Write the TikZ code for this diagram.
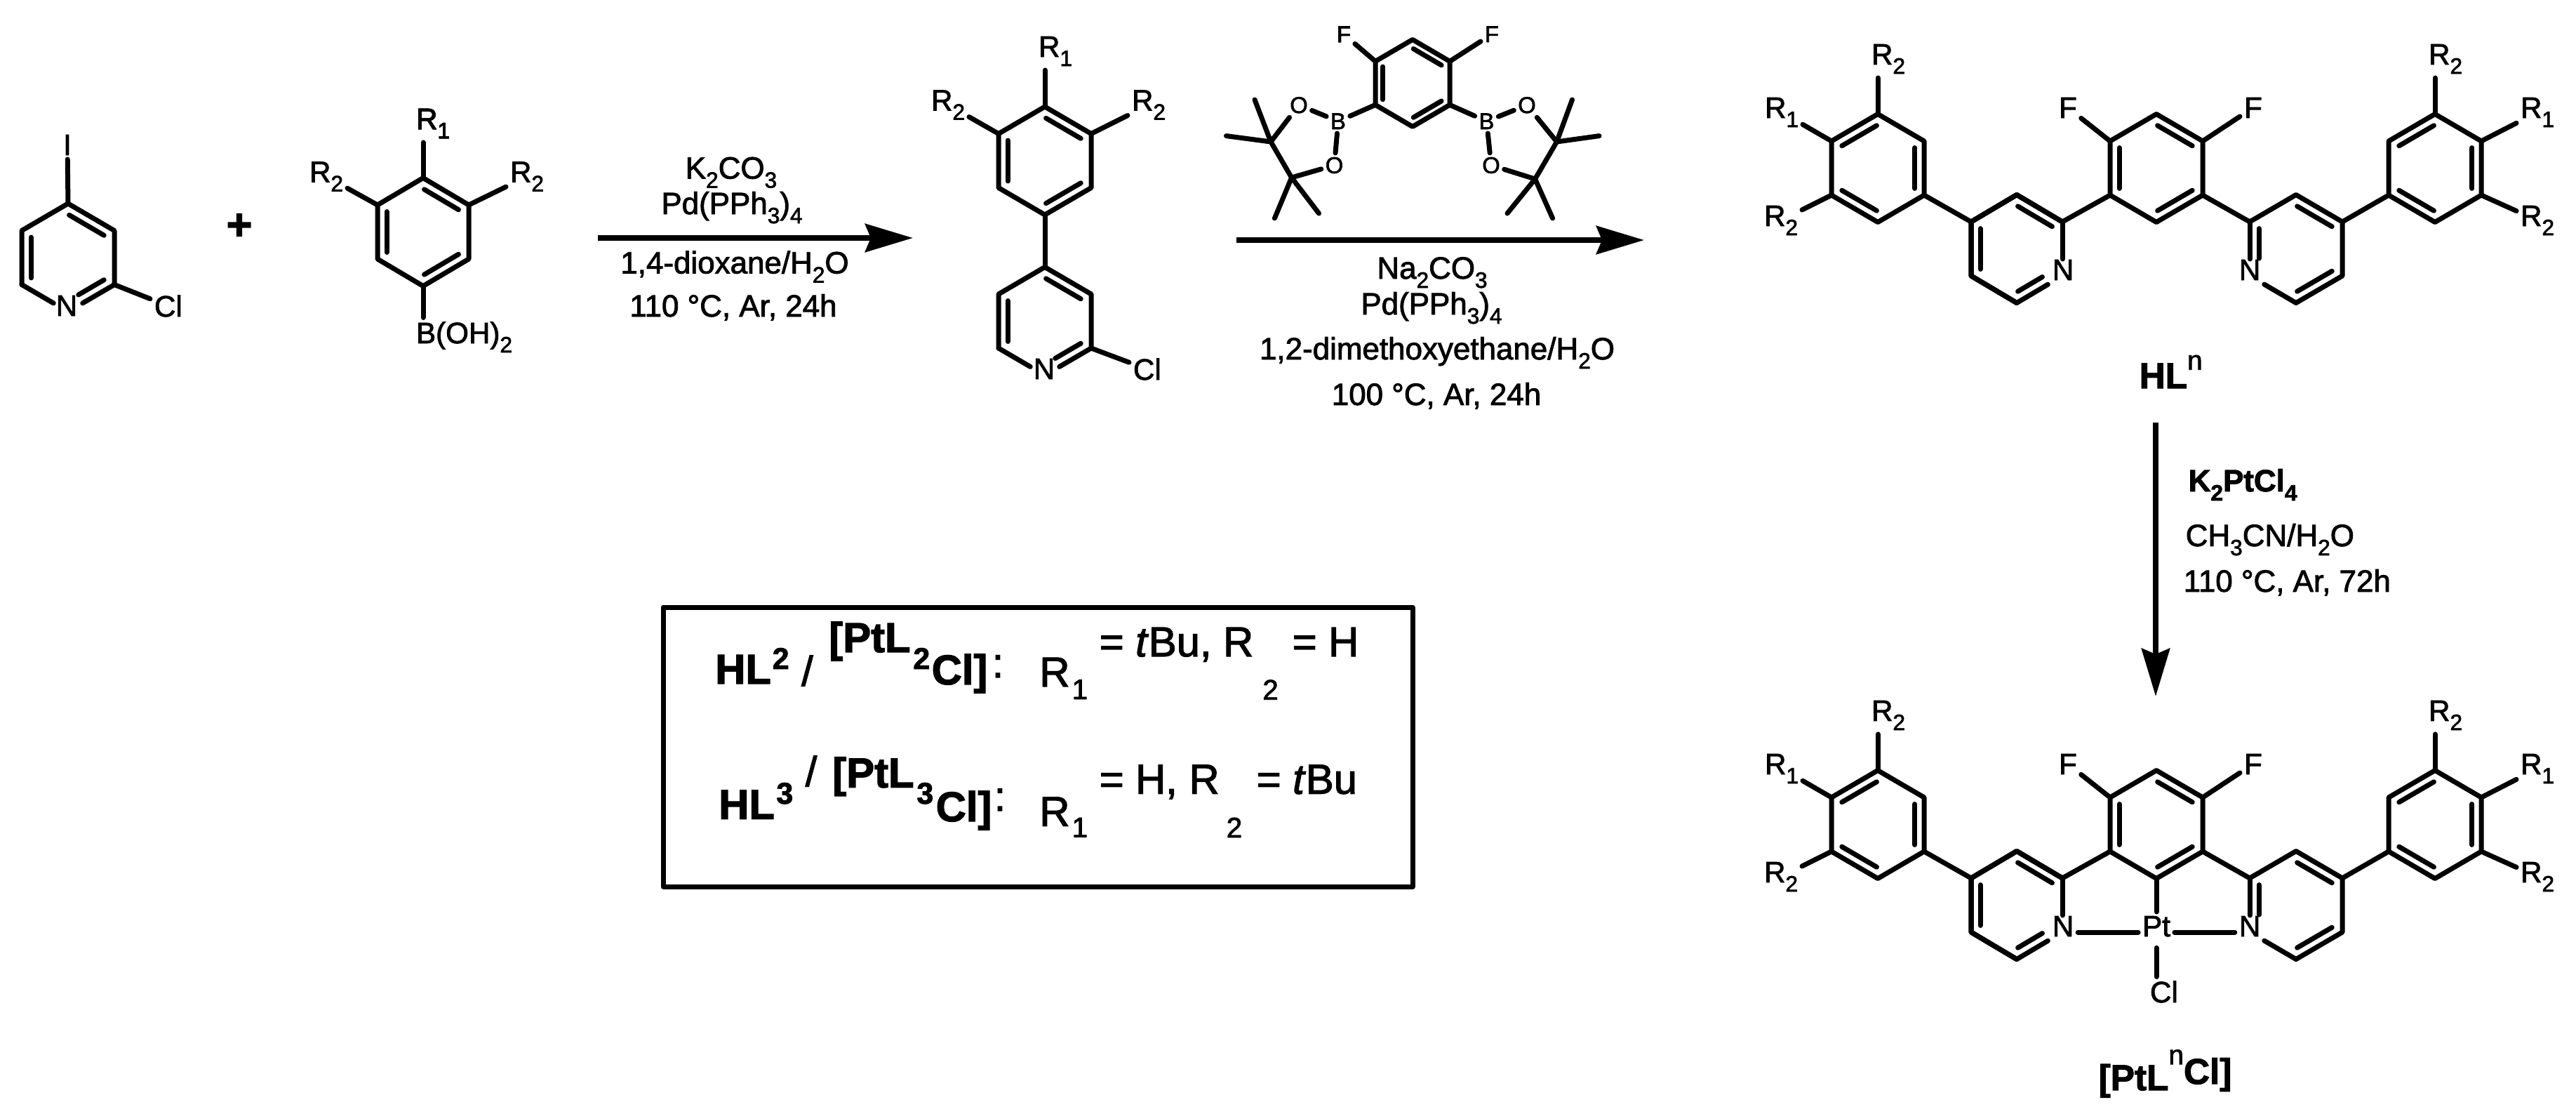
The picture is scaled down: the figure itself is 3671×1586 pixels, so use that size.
\documentclass[tikz,border=0pt]{standalone}
\usepackage{fontspec}
\setmainfont{Liberation Sans}[RawFeature={embolden=2}]
\usepackage{tikz}
\usetikzlibrary{calc, arrows.meta}

\tikzset{
    bond/.style={line width=0.7mm, line cap=round, line join=round},
    bondin/.style={line width=0.7mm, line cap=round},
    tonitro/.style={bond, shorten >=2.4mm},
    rxnarrow/.style={line width=0.8mm, -{Stealth[length=6.8mm, width=4mm, inset=0.8mm]}},
    atom/.style={font=\fontsize{12}{14}\selectfont, inner sep=1.5pt, anchor=base},
    atomw/.style={atom, anchor=base west},
    tinyatom/.style={font=\fontsize{9.3}{11}\selectfont, inner sep=1.5pt, anchor=base},
    tinyatomw/.style={tinyatom, anchor=base west},
    reagent/.style={font=\fontsize{12.5}{15}\selectfont, inner sep=0pt, anchor=base},
    reagentw/.style={reagent, anchor=base west},
    cmpd/.style={font=\fontsize{14.6}{17}\selectfont\bfseries, inner sep=0pt, anchor=base west},
    boxbold/.style={font=\fontsize{17}{20}\selectfont\bfseries, inner sep=0pt, anchor=base west},
    boxidx/.style={font=\fontsize{12.2}{14}\selectfont\bfseries, inner sep=0pt, anchor=base west},
    boxtxt/.style={font=\fontsize{17}{20}\selectfont, inner sep=0pt, anchor=base west},
    boxsub/.style={font=\fontsize{11.5}{14}\selectfont, inner sep=0pt, anchor=base west},
}

\newcommand{\sbs}[1]{\raisebox{-3.7pt}{\fontsize{9}{9}\selectfont #1}}
\newcommand{\hexpts}[5]{
    \coordinate (#1-c) at (#2,#3);
    \coordinate (#1-t) at (#2,#3-2*#5);
    \coordinate (#1-ur) at (#2+#4,#3-#5);
    \coordinate (#1-lr) at (#2+#4,#3+#5);
    \coordinate (#1-b) at (#2,#3+2*#5);
    \coordinate (#1-ll) at (#2-#4,#3+#5);
    \coordinate (#1-ul) at (#2-#4,#3-#5);
}
\newcommand{\hexring}[1]{\draw[bond] (#1-t) -- (#1-ur) -- (#1-lr) -- (#1-b) -- (#1-ll) -- (#1-ul) -- cycle;}
\newcommand{\dblpart}[5]{\draw[bondin] ($($(#1)!#4!(#2)$)!.2!(#3)$) -- ($($(#1)!#5!(#2)$)!.2!(#3)$);}
\newcommand{\dblbond}[3]{\dblpart{#1}{#2}{#3}{.03}{.97}}

% The ligand frame, used twice
\newcommand{\ligand}[2]{
    \hexpts{#1-la}{2676}{239.5+#2}{66}{38.5}
    \hexpts{#1-lp}{2874}{354.5+#2}{65}{38.5}
    \hexpts{#1-ce}{3073}{239.5+#2}{66}{38.5}
    \hexpts{#1-rp}{3272}{354.5+#2}{66}{38.5}
    \hexpts{#1-ra}{3470}{239.5+#2}{66}{38.5}
    \hexring{#1-la}
    \hexring{#1-ce}
    \hexring{#1-ra}
    \foreach \p/\q in {t/ul,ur/lr,ll/b} {
        \dblbond{#1-la-\p}{#1-la-\q}{#1-la-c}
        \dblbond{#1-ra-\p}{#1-ra-\q}{#1-ra-c}
    }
    \foreach \p/\q in {t/ur,ul/ll,lr/b} \dblbond{#1-ce-\p}{#1-ce-\q}{#1-ce-c}
    % Left pyridine
    \draw[bond] (#1-lp-ur) -- (#1-lp-t) -- (#1-lp-ul) -- (#1-lp-ll) -- (#1-lp-b);
    \draw[tonitro] (#1-lp-ur) -- (#1-lp-lr);
    \draw[tonitro] (#1-lp-b) -- (#1-lp-lr);
    \dblbond{#1-lp-t}{#1-lp-ur}{#1-lp-c}
    \dblbond{#1-lp-ul}{#1-lp-ll}{#1-lp-c}
    \dblpart{#1-lp-lr}{#1-lp-b}{#1-lp-c}{.3}{.97}
    % Right pyridine
    \draw[bond] (#1-rp-ul) -- (#1-rp-t) -- (#1-rp-ur) -- (#1-rp-lr) -- (#1-rp-b);
    \draw[tonitro] (#1-rp-ul) -- (#1-rp-ll);
    \draw[tonitro] (#1-rp-b) -- (#1-rp-ll);
    \dblbond{#1-rp-t}{#1-rp-ur}{#1-rp-c}
    \dblpart{#1-rp-ul}{#1-rp-ll}{#1-rp-c}{.03}{.72}
    \dblbond{#1-rp-lr}{#1-rp-b}{#1-rp-c}
    % Links between the rings
    \draw[bond] (#1-la-lr) -- (#1-lp-ul);
    \draw[bond] (#1-lp-ur) -- (#1-ce-ll);
    \draw[bond] (#1-ce-lr) -- (#1-rp-ul);
    \draw[bond] (#1-rp-ur) -- (#1-ra-ll);
    % Atom labels
    \node[atom] (#1-Nl) at (2940,399+#2) {N};
    \node[atom] (#1-Nr) at (3206,399+#2) {N};
    \node[atomw] (#1-Fl) at (2928,168+#2) {F};
    \node[atomw] (#1-Fr) at (3192,168+#2) {F};
    \node[atomw] (#1-R2a) at (2661,92+#2) {R\sbs{2}};
    \node[atomw] (#1-R1a) at (2509,168+#2) {R\sbs{1}};
    \node[atomw] (#1-R2b) at (2508,322+#2) {R\sbs{2}};
    \node[atomw] (#1-R2c) at (3455,92+#2) {R\sbs{2}};
    \node[atomw] (#1-R1b) at (3586,168+#2) {R\sbs{1}};
    \node[atomw] (#1-R2d) at (3586,322+#2) {R\sbs{2}};
    \draw[bond] (#1-ce-ul) -- (#1-Fl);
    \draw[bond] (#1-ce-ur) -- (#1-Fr);
    \draw[bond] (#1-la-t) -- (#1-la-t |- #1-R2a.south);
    \draw[bond] (#1-la-ul) -- (#1-R1a);
    \draw[bond] (#1-la-ll) -- (#1-R2b);
    \draw[bond] (#1-ra-t) -- (#1-ra-t |- #1-R2c.south);
    \draw[bond] (#1-ra-ur) -- (#1-R1b);
    \draw[bond] (#1-ra-lr) -- (#1-R2d);
}

\begin{document}
\begin{tikzpicture}[x=0.1mm, y=-0.1mm]
    \useasboundingbox (0,0) rectangle (3671,1586);

    % Draw the iodochloropyridine
    \hexpts{a}{97}{367}{66}{38.5}
    \draw[bond] (a-ll) -- (a-ul) -- (a-t) -- (a-ur) -- (a-lr);
    \draw[tonitro] (a-lr) -- (a-b);
    \draw[tonitro] (a-ll) -- (a-b);
    \dblbond{a-t}{a-ur}{a-c}
    \dblbond{a-ul}{a-ll}{a-c}
    \dblpart{a-lr}{a-b}{a-c}{.03}{.72}
    \node[atom] (aN) at (95,450) {N};
    \node[atomw] (aCl) at (214,451) {Cl};
    \node[atom] (aI) at (96,221) {I};
    \draw[bond] (a-t) -- (aI);
    \draw[bond] (a-lr) -- (aCl);

    \node[font=\fontsize{18}{20}\selectfont\bfseries, inner sep=0pt] (plus) at (341,323) {+};

    % Draw the boronic acid
    \hexpts{b}{603}{330.5}{65}{38.5}
    \hexring{b}
    \foreach \p/\q in {t/ur,ul/ll,lr/b} \dblbond{b-\p}{b-\q}{b-c}
    \node[atomw] (bR1) at (587,184) {R\sbs{1}};
    \node[atomw] (bR2l) at (435,259.5) {R\sbs{2}};
    \node[atomw] (bR2r) at (721,259.5) {R\sbs{2}};
    \node[atomw] (bBOH) at (587,489) {B(OH)\sbs{2}};
    \draw[bond] (b-t) -- (b-t |- bR1.south);
    \draw[bond] (b-ul) -- (bR2l);
    \draw[bond] (b-ur) -- (bR2r);
    \draw[bond] (b-b) -- (b-b |- bBOH.north);

    % First reaction arrow
    \coordinate (arrA-s) at (852,339);
    \coordinate (arrA-e) at (1301,339);
    \draw[rxnarrow] (arrA-s) -- (arrA-e);
    \node[reagent] (ra1) at (1042,254.5) {K\sbs{2}CO\sbs{3}};
    \node[reagent] (ra2) at (1043,305) {Pd(PPh\sbs{3})\sbs{4}};
    \node[reagent] (ra3) at (1047,389.5) {1,4-dioxane/H\sbs{2}O};
    \node[reagent] (ra4) at (1045,451) {110 °C, Ar, 24h};

    % Draw the chloropyridine product
    \hexpts{c}{1489}{229}{66}{38.5}
    \hexpts{d}{1489}{457.5}{66}{38.5}
    \hexring{c}
    \foreach \p/\q in {t/ur,ul/ll,lr/b} \dblbond{c-\p}{c-\q}{c-c}
    \draw[bond] (c-b) -- (d-t);
    \draw[bond] (d-ll) -- (d-ul) -- (d-t) -- (d-ur) -- (d-lr);
    \draw[tonitro] (d-lr) -- (d-b);
    \draw[tonitro] (d-ll) -- (d-b);
    \dblbond{d-t}{d-ur}{d-c}
    \dblbond{d-ul}{d-ll}{d-c}
    \dblpart{d-lr}{d-b}{d-c}{.03}{.72}
    \node[atomw] (cR1) at (1474,81) {R\sbs{1}};
    \node[atomw] (cR2l) at (1321,157.5) {R\sbs{2}};
    \node[atomw] (cR2r) at (1607,157.5) {R\sbs{2}};
    \node[atom] (dN) at (1488,540) {N};
    \node[atomw] (dCl) at (1609,541) {Cl};
    \draw[bond] (c-t) -- (c-t |- cR1.south);
    \draw[bond] (c-ul) -- (cR2l);
    \draw[bond] (c-ur) -- (cR2r);
    \draw[bond] (d-lr) -- (dCl);

    % Draw the diboronic ester
    \hexpts{p}{2013}{118.4}{53}{31}
    \hexring{p}
    \foreach \p/\q in {t/ur,ul/ll,lr/b} \dblbond{p-\p}{p-\q}{p-c}
    \node[tinyatomw] (pFl) at (1899,60) {F};
    \node[tinyatomw] (pFr) at (2110,60) {F};
    \node[tinyatom] (pBl) at (1907,184) {B};
    \node[tinyatom] (pBr) at (2118.5,184) {B};
    \node[tinyatom] (pOa) at (1851,161) {O};
    \node[tinyatom] (pOb) at (1901.5,246.7) {O};
    \node[tinyatom] (pOc) at (2176,161) {O};
    \node[tinyatom] (pOd) at (2125,246.7) {O};
    \coordinate (pCa) at (1811,202);
    \coordinate (pCb) at (1840.6,253);
    \coordinate (pCc) at (2218.5,202);
    \coordinate (pCd) at (2187.6,255);
    \coordinate (pMa) at (1788,142);
    \coordinate (pMb) at (1747.5,193.6);
    \coordinate (pMc) at (1816.4,311);
    \coordinate (pMd) at (1879.5,304);
    \coordinate (pMe) at (2240.5,142);
    \coordinate (pMf) at (2279,193.6);
    \coordinate (pMg) at (2148,304);
    \coordinate (pMh) at (2212.6,311);
    \foreach \p/\q in {p-ul/pFl,p-ur/pFr,p-ll/pBl,p-lr/pBr,pBl/pOa,pBl/pOb,pBr/pOc,pBr/pOd,pOa/pCa,pOb/pCb,pOc/pCc,pOd/pCd,pCa/pCb,pCc/pCd,pCa/pMa,pCa/pMb,pCb/pMc,pCb/pMd,pCc/pMe,pCc/pMf,pCd/pMg,pCd/pMh}
        \draw[bond] (\p) -- (\q);

    % Second reaction arrow
    \coordinate (arrB-s) at (1762,342);
    \coordinate (arrB-e) at (2343,342);
    \draw[rxnarrow] (arrB-s) -- (arrB-e);
    \node[reagent] (rb1) at (2041,397) {Na\sbs{2}CO\sbs{3}};
    \node[reagent] (rb2) at (2040,448) {Pd(PPh\sbs{3})\sbs{4}};
    \node[reagent] (rb3) at (2048,512) {1,2-dimethoxyethane/H\sbs{2}O};
    \node[reagent] (rb4) at (2047,577) {100 °C, Ar, 24h};

    % Draw the free ligand
    \ligand{h}{0}
    \node[cmpd] (hName) at (3048,553) {HL\raisebox{7.5pt}{\mdseries\fontsize{11}{11}\selectfont n}};

    % Third reaction arrow
    \coordinate (arrC-s) at (3072,602);
    \coordinate (arrC-e) at (3072,992);
    \draw[rxnarrow] (arrC-s) -- (arrC-e);
    \node[reagentw, font=\fontsize{12.5}{15}\selectfont\bfseries] (rc1) at (3118,700) {K\sbs{2}PtCl\sbs{4}};
    \node[reagentw] (rc2) at (3114,778) {CH\sbs{3}CN/H\sbs{2}O};
    \node[reagentw] (rc3) at (3111,843) {110 °C, Ar, 72h};

    % Draw the platinum complex
    \ligand{k}{935}
    \node[atom] (kPt) at (3073,1334) {Pt};
    \node[atomw] (kCl) at (3058,1428) {Cl};
    \draw[bond] (k-ce-b) -- (kPt);
    \draw[bond] ([yshift=0.6mm]k-Nl.base east) -- ([yshift=0.6mm]kPt.base west);
    \draw[bond] ([yshift=0.6mm]kPt.base east) -- ([yshift=0.6mm]k-Nr.base west);
    \draw[bond, shorten <=1mm] (kPt) -- (kPt |- kCl.north);
    \node[cmpd] (kName) at (2990,1553) {[PtL\raisebox{10.5pt}{\mdseries\fontsize{11}{11}\selectfont n}\raisebox{2.5pt}{Cl]}};

    % Draw the box with the substituents
    \node[draw, line width=0.7mm, line join=round, minimum width=106.8mm, minimum height=39.8mm, inner sep=0pt] (subsBox) at (1479,1064) {};

    \node[boxbold] (la) at (1018.6,974) {HL};
    \node[boxidx] (lb) at (1100,953) {2};
    \node[boxtxt] (lc) at (1141.4,977) {/};
    \node[boxbold] (ld) at (1180.7,929) {[PtL};
    \node[boxidx] (le) at (1300.7,953) {2};
    \node[boxbold] (lf) at (1327,975) {Cl]};
    \node[boxtxt] (lg) at (1413,965) {:};
    \node[boxtxt] (lh) at (1480.7,978) {R};
    \node[boxsub] (li) at (1527,996) {1};
    \node[boxtxt] (lj) at (1566,935) {= \textit{t}Bu, R};
    \node[boxsub] (lk) at (1798.6,996.7) {2};
    \node[boxtxt] (ll) at (1841,935) {= H};

    \node[boxbold] (ma) at (1023.6,1166.7) {HL};
    \node[boxidx] (mb) at (1105.7,1145) {3};
    \node[boxtxt] (mc) at (1147,1120) {/};
    \node[boxbold] (md) at (1185.7,1121.7) {[PtL};
    \node[boxidx] (me) at (1305.7,1145) {3};
    \node[boxbold] (mf) at (1333,1170) {Cl]};
    \node[boxtxt] (mg) at (1416,1155) {:};
    \node[boxtxt] (mh) at (1480.7,1176.7) {R};
    \node[boxsub] (mi) at (1527,1192.7) {1};
    \node[boxtxt] (mj) at (1566,1130.7) {= H, R};
    \node[boxsub] (mk) at (1747,1193) {2};
    \node[boxtxt] (ml) at (1790,1130.7) {= \textit{t}Bu};
\end{tikzpicture}
\end{document}
